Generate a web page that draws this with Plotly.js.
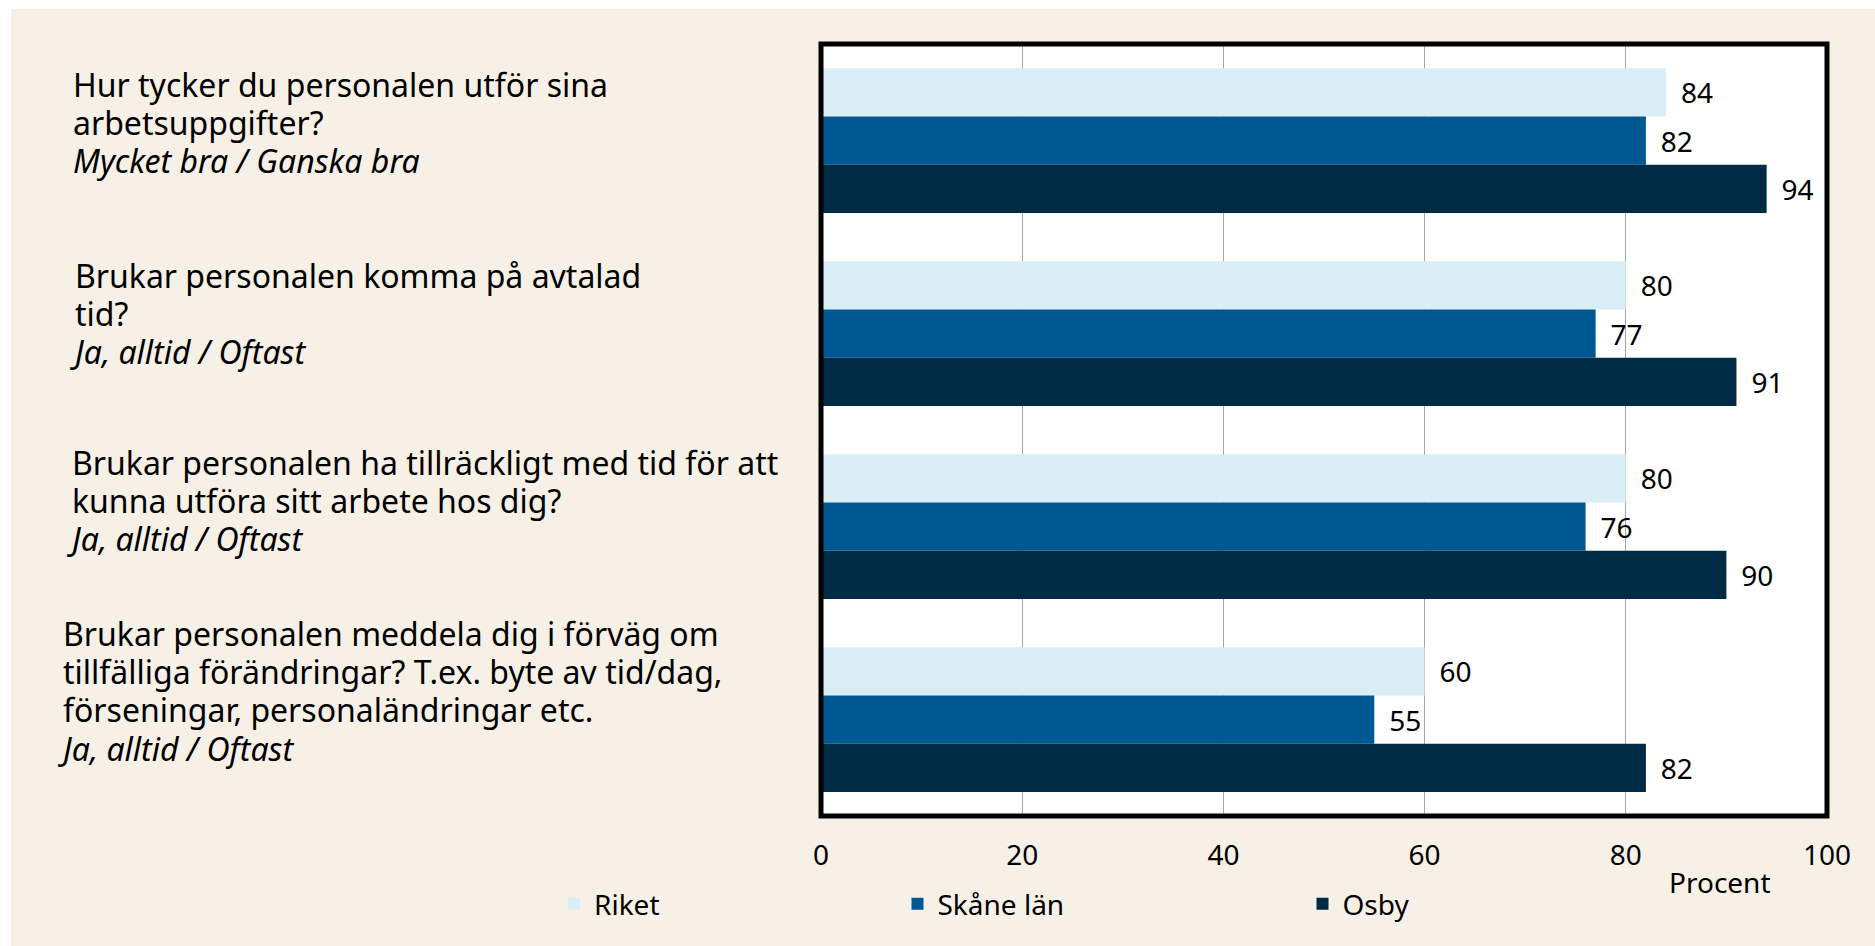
<!DOCTYPE html>
<html>
<head>
<meta charset="utf-8">
<script src="https://cdn.plot.ly/plotly-3.0.1.min.js"></script>
<style>
  html, body { margin: 0; padding: 0; background: #ffffff; width: 1875px; height: 946px; overflow: hidden; }
  #chart { position: absolute; left: 11px; top: 9px; width: 1864px; height: 937px; }
</style>
</head>
<body>
<div id="chart"></div>
<script>
// ---- Data ----
const questions = [
  "Hur tycker du personalen utför sina<br>arbetsuppgifter?",
  "Brukar personalen komma på avtalad<br>tid?",
  "Brukar personalen ha tillräckligt med tid för att<br>kunna utföra sitt arbete hos dig?",
  "Brukar personalen meddela dig i förväg om<br>tillfälliga förändringar? T.ex. byte av tid/dag,<br>förseningar, personaländringar etc."
];
const answers = [
  "Mycket bra / Ganska bra",
  "Ja, alltid / Oftast",
  "Ja, alltid / Oftast",
  "Ja, alltid / Oftast"
];
const seriesNames = ["Riket", "Skåne län", "Osby"];
const riket = [84, 80, 80, 60];
const skane = [82, 77, 76, 55];
const osby  = [94, 91, 90, 82];
const xTicks = [0, 20, 40, 60, 80, 100];
const xAxisLabel = "Procent";

// ---- Styling ----
const FONT = "Noto Sans, Open Sans, DejaVu Sans, sans-serif";
const colors = ["#DAEEF5", "#005892", "#002B45"];
const legendIds = ["legend", "legend2", "legend3"];
const seriesValues = [riket, skane, osby];

// plot area in page pixels
const PX = {l: 821, r: 1827, t: 44, b: 816};
const DIV = {x: 11, y: 9, w: 1864, h: 937};
const px2x = p => (p - PX.l) / (PX.r - PX.l);
const px2y = p => (PX.b - p) / (PX.b - PX.t);

const traces = seriesValues.map((vals, i) => ({
  type: "bar",
  orientation: "h",
  name: seriesNames[i],
  y: questions,
  x: vals,
  marker: {color: colors[i], line: {width: 0}},
  text: vals.map(v => "\u00A0\u2009" + v),
  textposition: "outside",
  textfont: {family: FONT, size: 28, color: "#000"},
  constraintext: "none",
  cliponaxis: false,
  hoverinfo: "x+name",
  legend: legendIds[i]
}));

// Category label annotations (one block per question)
const LABEL_SIZE = 32;          // glyph size
const LINE_STEP = 38.2;         // distance between baselines
const BASE_SIZE = LINE_STEP / 1.3;
const labelX = [71.7, 69.3, 65.7, 56.8];          // left edge of each block (page px)
const firstBaseline = [95, 286, 472.7, 644.3];    // baseline of first line (page px)
const big = s => '<span style="font-size:' + LABEL_SIZE + 'px">' + s + '</span>';
const annotations = questions.map((q, i) => {
  const lines = q.split("<br>").map(big).concat([big("<i>" + answers[i] + "</i>")]);
  const n = lines.length;
  const mid = firstBaseline[i] + (n - 1) * LINE_STEP / 2 - 0.388 * LABEL_SIZE + 1.7;
  return {
    xref: "paper", yref: "paper",
    x: px2x(labelX[i]), y: px2y(mid),
    xanchor: "left", yanchor: "middle", align: "left",
    showarrow: false, borderpad: 0,
    text: lines.join("<br>"),
    font: {family: FONT, size: BASE_SIZE, color: "#000"}
  };
});
annotations.push({
  xref: "paper", yref: "paper",
  x: px2x(1719.5), y: px2y(882),
  xanchor: "center", yanchor: "middle",
  showarrow: false,
  text: xAxisLabel,
  font: {family: FONT, size: 28, color: "#000"}
});

const legendBoxCenters = [578.5, 922, 1327];
const legendCommon = {
  orientation: "h", yanchor: "middle", xanchor: "left",
  y: px2y(904),
  bgcolor: "rgba(0,0,0,0)", borderwidth: 0,
  font: {family: FONT, size: 28, color: "#000"}
};

const layout = {
  width: DIV.w, height: DIV.h,
  margin: {l: PX.l - DIV.x, r: DIV.w - (PX.r - DIV.x), t: PX.t - DIV.y, b: DIV.h - (PX.b - DIV.y), pad: 0, autoexpand: false},
  paper_bgcolor: "#F7F0E7",
  plot_bgcolor: "#FFFFFF",
  barmode: "group",
  bargap: 0.25,
  bargroupgap: 0,
  font: {family: FONT, size: 28, color: "#000"},
  xaxis: {
    range: [0, 100],
    tickvals: xTicks,
    ticktext: xTicks.map(String),
    showgrid: true, gridcolor: "#A6A6A6", gridwidth: 1,
    zeroline: false, showline: false,
    ticks: "", ticklabelstandoff: 20,
    tickfont: {family: FONT, size: 28, color: "#000"},
    automargin: false,
    fixedrange: true
  },
  yaxis: {
    type: "category",
    categoryorder: "array", categoryarray: questions,
    autorange: "reversed",
    showticklabels: false, showgrid: false, zeroline: false, showline: false,
    ticks: "", automargin: false, fixedrange: true
  },
  shapes: [{
    type: "rect", xref: "paper", yref: "paper",
    x0: 0, x1: 1, y0: 0, y1: 1,
    line: {color: "#000", width: 5},
    layer: "above"
  }],
  annotations: annotations,
  legend:  Object.assign({}, legendCommon, {x: px2x(legendBoxCenters[0] - 24.5)}),
  legend2: Object.assign({}, legendCommon, {x: px2x(legendBoxCenters[1] - 24.5)}),
  legend3: Object.assign({}, legendCommon, {x: px2x(legendBoxCenters[2] - 24.5)}),
  showlegend: true
};

Plotly.newPlot("chart", traces, layout, {displayModeBar: false, staticPlot: true});
</script>
</body>
</html>
